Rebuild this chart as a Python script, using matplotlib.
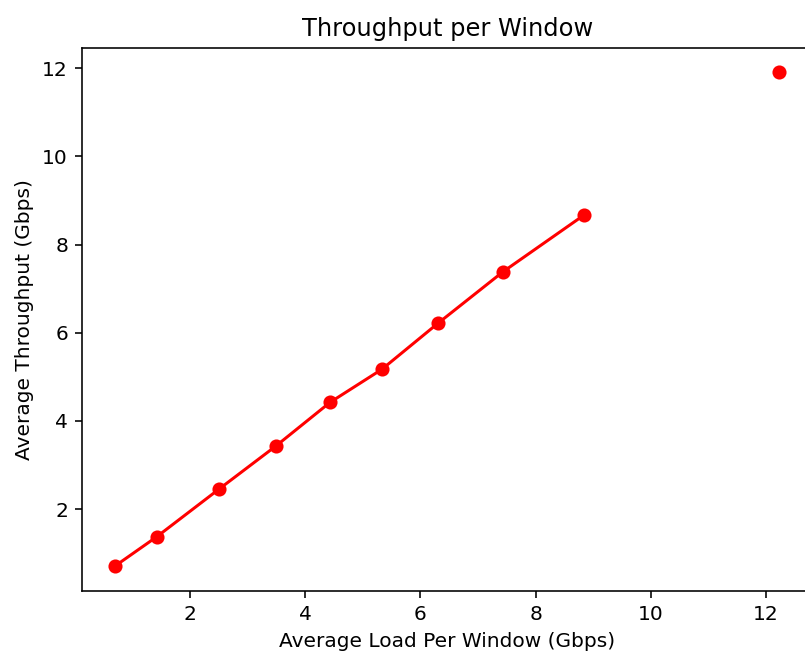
import matplotlib
matplotlib.use("Agg")
import matplotlib.pyplot as plt

load = [0.70, 1.42, 2.50, 3.49, 4.43, 5.33, 6.30, 7.43, 8.84]
throughput = [0.71, 1.37, 2.45, 3.43, 4.42, 5.17, 6.21, 7.38, 8.67]
outlier_load = [12.22]
outlier_tp = [11.91]

DPI = 145
fig = plt.figure(figsize=(805 / DPI, 655 / DPI), dpi=DPI)
ax = fig.add_axes([0.102, 0.0977, 0.907, 0.829])

ax.plot(load, throughput, 'o-', color='red')
ax.plot(outlier_load, outlier_tp, 'o', color='red')

ax.set_xlim(0.125, 12.803)
ax.set_ylim(0.14, 12.46)
ax.set_xticks([2, 4, 6, 8, 10, 12])
ax.set_yticks([2, 4, 6, 8, 10, 12])
ax.set_title("Throughput per Window")
ax.set_xlabel("Average Load Per Window (Gbps)")
ax.set_ylabel("Average Throughput (Gbps)")

fig.savefig("out.png", dpi=DPI)
